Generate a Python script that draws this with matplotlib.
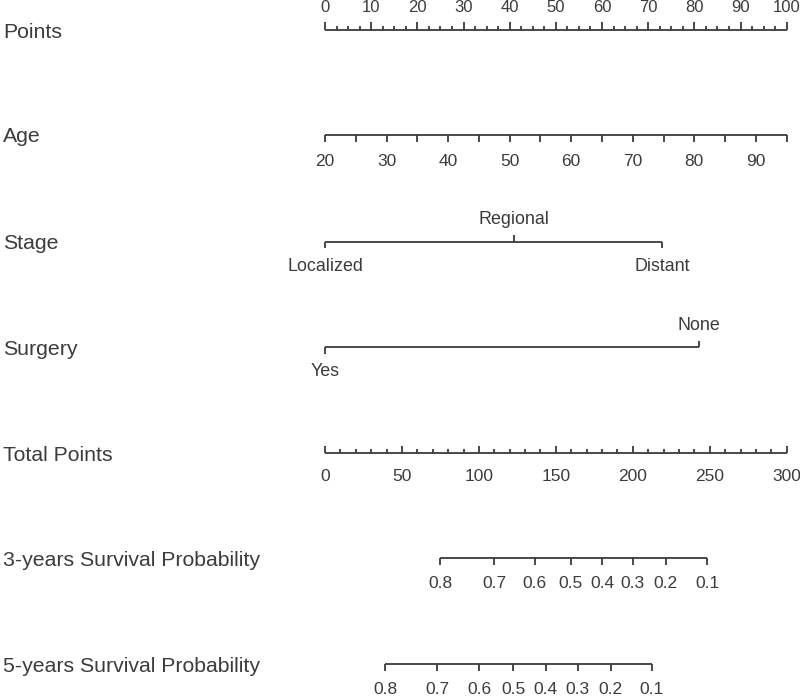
import numpy as np
import matplotlib
matplotlib.use("Agg")
import matplotlib.pyplot as plt

plt.rcParams['font.family'] = ['Liberation Sans', 'DejaVu Sans']

# ---- data ----
row_names = ["Points", "Age", "Stage", "Surgery", "Total Points",
             "3-years Survival Probability", "5-years Survival Probability"]
points_labels = [0, 10, 20, 30, 40, 50, 60, 70, 80, 90, 100]
age_min, age_max = 20, 95
age_ticks = [20, 25, 30, 35, 40, 45, 50, 55, 60, 65, 70, 75, 80, 85, 90, 95]
age_labels = [20, 30, 40, 50, 60, 70, 80, 90]
stage_levels = ["Localized", "Regional", "Distant"]
stage_points = [0, 41, 73]
surgery_levels = ["Yes", "None"]
surgery_points = [0, 81]
total_max = 300
total_labels = [0, 50, 100, 150, 200, 250, 300]
surv3_probs = [0.8, 0.7, 0.6, 0.5, 0.4, 0.3, 0.2, 0.1]
surv3_total = [74.7, 110.0, 136.2, 159.6, 180.2, 199.9, 221.5, 248.4]
surv5_probs = [0.8, 0.7, 0.6, 0.5, 0.4, 0.3, 0.2, 0.1]
surv5_total = [39.0, 73.0, 100.1, 122.3, 143.4, 164.2, 185.6, 212.3]

# ---- layout (pixel rows) ----
W, H = 800, 696
row_y = [30, 135, 241.5, 347.3, 453.3, 558.3, 664]
lc = '#3a3a3a'
tc = '#3c3c3c'
lw = 1.3

fig = plt.figure(figsize=(W / 100, H / 100), dpi=100)
ax = fig.add_axes([325 / W, 0, 461.7 / W, 1])
ax.set_xlim(0, 100)
ax.set_ylim(H, 0)
ax.axis('off')

def hline(x0, x1, y):
    ax.plot([x0, x1], [y, y], color=lc, lw=lw, solid_capstyle='butt', clip_on=False)

def tick(x, y, length):
    ax.plot([x, x], [y, y + length], color=lc, lw=lw, solid_capstyle='butt', clip_on=False)

def lab(x, y, s, size=12.5):
    ax.text(x, y, s, ha='center', va='center', fontsize=size, color=tc, clip_on=False)

# row names
for name, y in zip(row_names, row_y):
    fig.text(3 / W, 1 - (y + 2) / H, name, ha='left', va='center',
             fontsize=15.3, color=tc)

# Points
y = row_y[0]
hline(0, 100, y)
for v in np.arange(0, 100.01, 2.5):
    tick(v, y, -8 if v % 10 == 0 else -4.5)
for v in points_labels:
    lab(v, y - 22, str(v), 12)

# Age
y = row_y[1]
to_pts_age = lambda a: (a - age_min) / (age_max - age_min) * 100
hline(to_pts_age(age_ticks[0]), to_pts_age(age_ticks[-1]), y)
for a in age_ticks:
    tick(to_pts_age(a), y, 7)
for a in age_labels:
    lab(to_pts_age(a), y + 26, str(a))

# Stage
y = row_y[2]
hline(min(stage_points), max(stage_points), y)
for i, (s, p) in enumerate(zip(stage_levels, stage_points)):
    if i % 2 == 0:
        tick(p, y, 6.5)
        lab(p, y + 25, s, 12.9)
    else:
        tick(p, y, -7)
        lab(p, y - 22, s, 12.9)

# Surgery
y = row_y[3]
hline(min(surgery_points), max(surgery_points), y)
for i, (s, p) in enumerate(zip(surgery_levels, surgery_points)):
    if i % 2 == 0:
        tick(p, y, 6.5)
        lab(p, y + 24.5, s, 12.9)
    else:
        tick(p, y, -6)
        lab(p, y - 22, s, 12.9)

# Total points
y = row_y[4]
to_pts_tot = lambda t: t / total_max * 100
hline(0, 100, y)
for t in np.arange(0, total_max + 0.1, 10):
    tick(to_pts_tot(t), y, -7 if t % 50 == 0 else -4)
for t in total_labels:
    lab(to_pts_tot(t), y + 23, str(t))

# Survival axes
for y, probs, tots in [(row_y[5], surv3_probs, surv3_total),
                       (row_y[6], surv5_probs, surv5_total)]:
    xs = [to_pts_tot(t) for t in tots]
    hline(min(xs), max(xs), y)
    for p, x in zip(probs, xs):
        tick(x, y, 7)
        lab(x, y + 25, f"{p:.1f}")

fig.savefig("out.png", dpi=100, facecolor='white')
